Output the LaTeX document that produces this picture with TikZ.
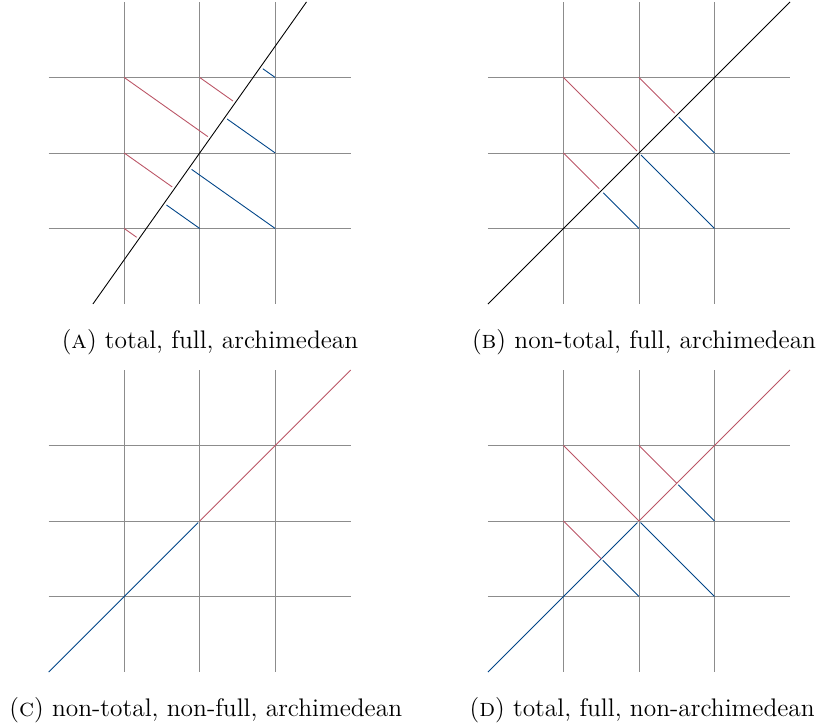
\documentclass[tikz,border=0pt]{standalone}
\usepackage{tikz}
\usetikzlibrary{calc}
\definecolor{tolred}{HTML}{BB5566}
\definecolor{tolblue}{HTML}{004488}
\tikzset{
  gridline/.style={black!45,line width=0.4pt},
  redproj/.style={tolred},
  blueproj/.style={tolblue,shorten >=1pt},
  gap/.style={shorten >=1.3pt},
  captext/.style={font=\fontsize{11.5}{13.8}\selectfont},
}

\begin{document}
\begin{tikzpicture}[x=1.2cm,y=1.2cm]
  \useasboundingbox (-2.645,-7.603) rectangle (8.176,2.026);
  % (a) slope sqrt 2
  \begin{scope}
    \foreach \t in {-1,0,1} {
      \draw[gridline] (\t,-2) -- (\t,2);
      \draw[gridline] (-2,\t) -- (2,\t);
    }
    \coordinate (alo) at (-1.41421,-2);
    \coordinate (ahi) at (1.41421,2);
    \draw (alo) -- (ahi);
    \foreach \x/\y in {-1/1,0/1,-1/0,-1/-1}
      \draw[redproj,gap] (\x,\y) -- ($(alo)!(\x,\y)!(ahi)$);
    \foreach \x/\y in {1/1,1/0,0/-1,1/-1}
      \draw[tolblue,gap] (\x,\y) -- ($(alo)!(\x,\y)!(ahi)$);
  \end{scope}
  \node[captext] (capA) at (0.136,-2.503) {(\textsc{a}) total, full, archimedean};
  % (b) diagonal
  \begin{scope}[shift={(5.818,0)}]
    \foreach \t in {-1,0,1} {
      \draw[gridline] (\t,-2) -- (\t,2);
      \draw[gridline] (-2,\t) -- (2,\t);
    }
    \draw (-2,-2) -- (2,2);
    \draw[redproj,gap] (-1,1) -- (0,0);
    \draw[redproj,gap] (0,1) -- (0.5,0.5);
    \draw[redproj,gap] (-1,0) -- (-0.5,-0.5);
    \draw[tolblue,gap] (1,-1) -- (0,0);
    \draw[tolblue,gap] (1,0) -- (0.5,0.5);
    \draw[tolblue,gap] (0,-1) -- (-0.5,-0.5);
  \end{scope}
  \node[captext] (capB) at (5.885,-2.503) {(\textsc{b}) non-total, full, archimedean};
  % (c) split diagonal
  \begin{scope}[shift={(0,-4.874)}]
    \foreach \t in {-1,0,1} {
      \draw[gridline] (\t,-2) -- (\t,2);
      \draw[gridline] (-2,\t) -- (2,\t);
    }
    \draw[blueproj] (-2,-2) -- (0,0);
    \draw[redproj] (0,0) -- (2,2);
  \end{scope}
  \node[captext] (capC) at (0.08,-7.377) {(\textsc{c}) non-total, non-full, archimedean};
  % (d) split diagonal with projections
  \begin{scope}[shift={(5.818,-4.874)}]
    \foreach \t in {-1,0,1} {
      \draw[gridline] (\t,-2) -- (\t,2);
      \draw[gridline] (-2,\t) -- (2,\t);
    }
    \draw[blueproj] (-2,-2) -- (0,0);
    \draw[redproj] (0,0) -- (2,2);
    \draw[redproj] (-1,1) -- (0,0);
    \draw[redproj] (0,1) -- (0.5,0.5);
    \draw[redproj] (-1,0) -- (-0.5,-0.5);
    \draw[blueproj] (1,-1) -- (0,0);
    \draw[blueproj] (1,0) -- (0.5,0.5);
    \draw[blueproj] (0,-1) -- (-0.5,-0.5);
  \end{scope}
  \node[captext] (capD) at (5.86,-7.377) {(\textsc{d}) total, full, non-archimedean};
\end{tikzpicture}
\end{document}
